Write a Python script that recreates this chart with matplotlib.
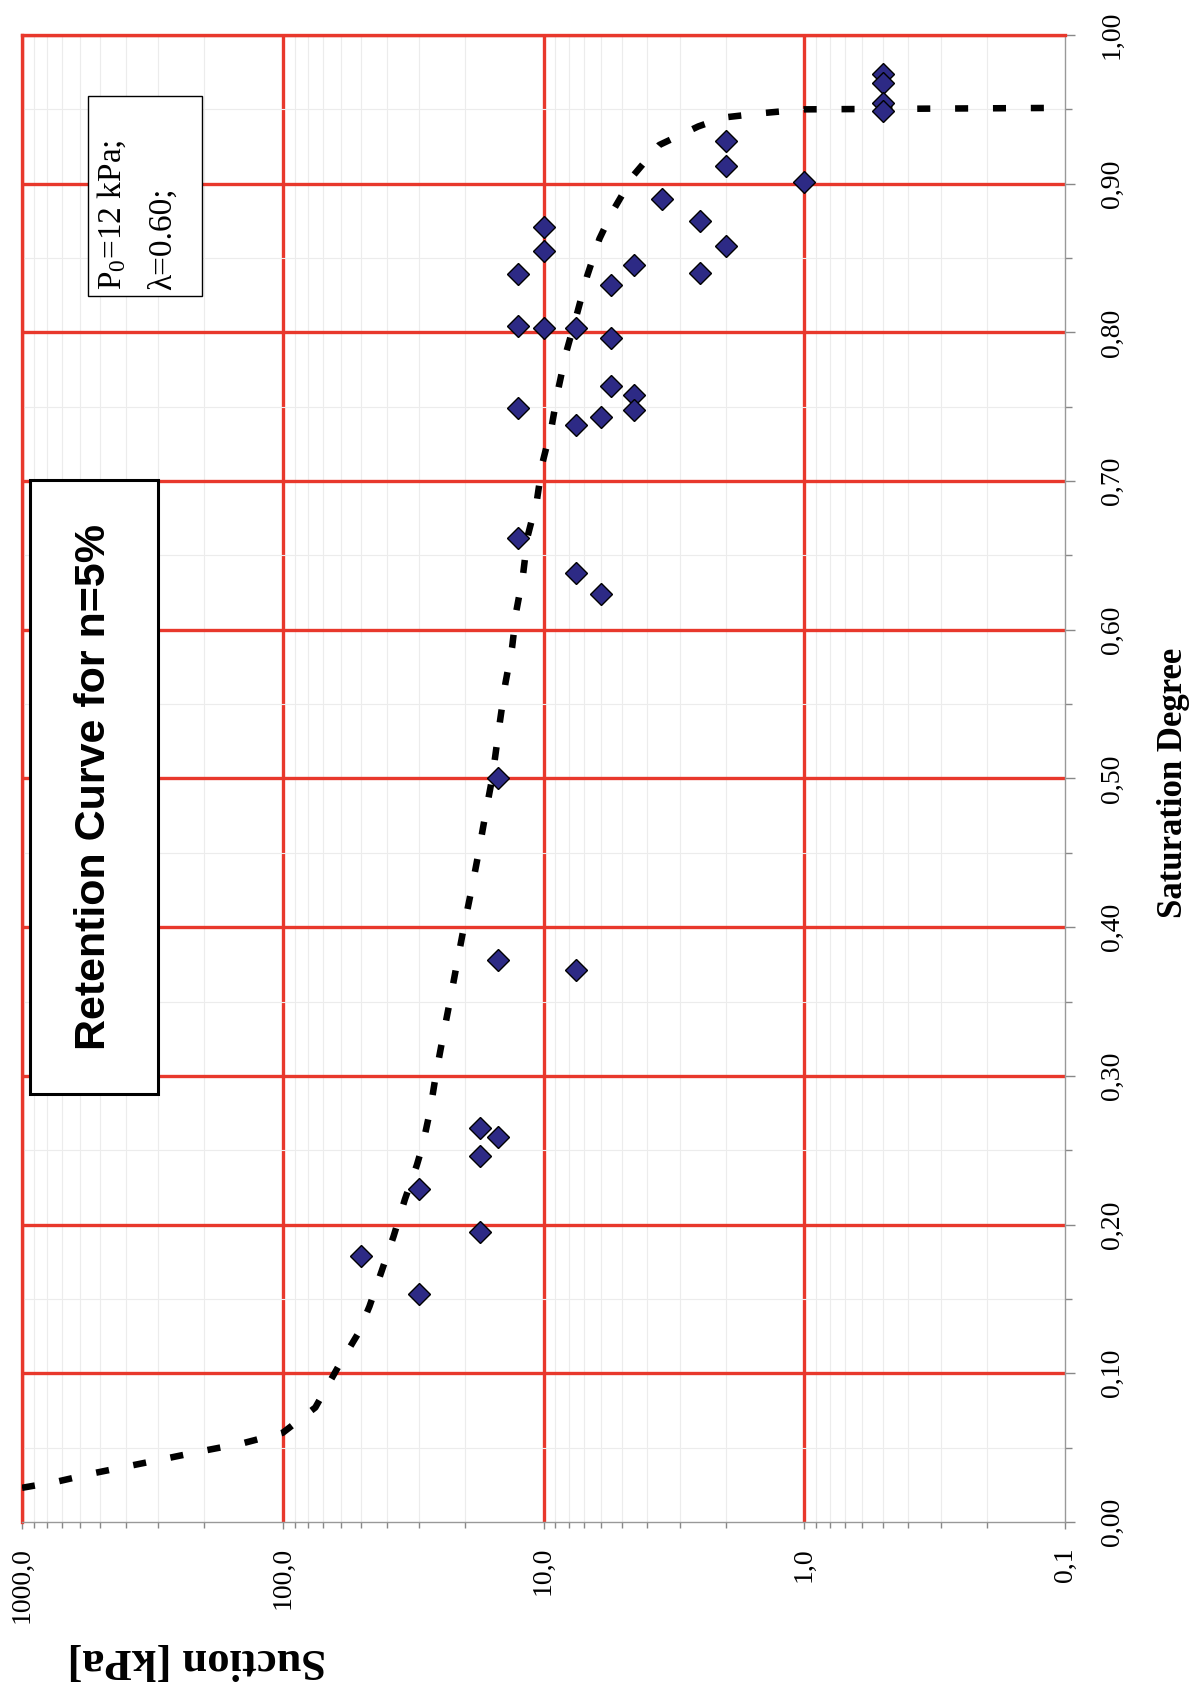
import matplotlib
matplotlib.use("Agg")
import matplotlib.pyplot as plt
from matplotlib.patches import Rectangle
from matplotlib.ticker import FixedLocator, LogLocator, MultipleLocator, NullFormatter

plt.rcParams['mathtext.fontset'] = 'custom'
plt.rcParams['mathtext.rm'] = 'Liberation Serif'
plt.rcParams['mathtext.it'] = 'Liberation Serif'

SERIF = 'Liberation Serif'
SANS = 'Liberation Sans'
RED = '#e8382c'

# measured points: suction [kPa] and saturation degree
suction_meas = [50, 30, 30, 17.5, 17.5, 17.5, 15, 15, 15, 7.5,
                12.5, 7.5, 6.0, 12.5, 7.5, 6.0, 5.5, 4.5, 4.5, 12.5,
                10, 7.5, 5.5, 12.5, 10, 10, 5.5, 4.5, 3.5, 2.5,
                2.5, 2.0, 2.0, 2.0, 1.0, 0.5, 0.5, 0.5, 0.5]
saturation_meas = [0.179, 0.153, 0.224, 0.195, 0.246, 0.265, 0.259, 0.378, 0.500, 0.371,
                   0.662, 0.638, 0.624, 0.749, 0.738, 0.743, 0.764, 0.758, 0.748, 0.804,
                   0.803, 0.803, 0.796, 0.839, 0.855, 0.871, 0.832, 0.845, 0.890, 0.875,
                   0.840, 0.858, 0.912, 0.929, 0.901, 0.974, 0.968, 0.954, 0.949]

# model retention curve
suction_curve = [1000, 740, 525, 380, 275, 200, 142, 100, 75, 61,
                 51.3, 46.5, 41.7, 37.6, 34.0, 30.6, 29.1, 27.2, 25.8, 24.2,
                 22.7, 21.4, 20.1, 18.8, 17.7, 16.7, 15.7, 14.7, 14.0, 13.2,
                 12.7, 12.0, 11.5, 10.6, 10.1, 9.3, 8.8, 8.2, 7.4, 6.8,
                 6.1, 5.45, 4.5, 3.6, 2.55, 2.04, 1.44, 1.0, 0.1]
saturation_curve = [0.023, 0.027, 0.033, 0.038, 0.043, 0.048, 0.053, 0.060, 0.077, 0.105,
                    0.127, 0.145, 0.169, 0.192, 0.217, 0.240, 0.253, 0.277, 0.302, 0.328,
                    0.353, 0.377, 0.402, 0.427, 0.451, 0.476, 0.501, 0.538, 0.564, 0.588,
                    0.613, 0.636, 0.663, 0.687, 0.712, 0.737, 0.761, 0.786, 0.814, 0.838,
                    0.863, 0.881, 0.906, 0.926, 0.9385, 0.9445, 0.9475, 0.950, 0.951]

suction_ticks = [1000, 100, 10, 1, 0.1]
suction_labels = ['1000,0', '100,0', '10,0', '1,0', '0,1']
sat_ticks = [0.0, 0.1, 0.2, 0.3, 0.4, 0.5, 0.6, 0.7, 0.8, 0.9, 1.0]
sat_labels = ['0,00', '0,10', '0,20', '0,30', '0,40', '0,50',
              '0,60', '0,70', '0,80', '0,90', '1,00']

W, H = 1199, 1685
fig = plt.figure(figsize=(W / 100, H / 100), dpi=100)
ax = fig.add_axes([22 / W, (H - 1522) / H, 1043 / W, 1487 / H])

ax.plot(suction_curve, saturation_curve, color='black', lw=4.7,
        linestyle=(0, (2.0, 3.8)), dash_capstyle='butt', zorder=3)
ax.plot(suction_meas, saturation_meas, linestyle='none', marker='D', ms=11.5,
        markerfacecolor='#2d2a85', markeredgecolor='black', markeredgewidth=1.0, zorder=4)

ax.set_xscale('log')
ax.set_xlim(1000, 0.1)
ax.set_ylim(0, 1)

ax.xaxis.set_major_locator(FixedLocator(suction_ticks))
ax.set_xticklabels(suction_labels, rotation=90, fontsize=20, family=SERIF)
ax.xaxis.set_minor_locator(LogLocator(base=10, subs=range(2, 10)))
ax.xaxis.set_minor_formatter(NullFormatter())

ax.yaxis.tick_right()
ax.yaxis.set_major_locator(FixedLocator(sat_ticks))
ax.set_yticklabels(sat_labels, rotation=90, fontsize=20, family=SERIF, va='center')
ax.yaxis.set_minor_locator(MultipleLocator(0.05))

ax.tick_params(axis='x', which='major', direction='out', length=5, width=1, color='#888888', pad=13)
ax.tick_params(axis='x', which='minor', direction='out', length=4, width=1, color='#888888')
ax.tick_params(axis='y', which='major', direction='out', length=7, width=1, color='#888888', pad=18)
ax.tick_params(axis='y', which='minor', direction='out', length=5, width=1, color='#888888')

ax.grid(True, which='major', color=RED, lw=2.4)
ax.grid(True, which='minor', color='#ececec', lw=0.8)
ax.set_axisbelow(True)

# edge gridlines sit under the grey spines
for t in ax.xaxis.get_major_ticks():
    if t.get_loc() == 0.1:
        t.gridline.set_visible(False)
for t in ax.yaxis.get_major_ticks():
    if t.get_loc() == 0.0:
        t.gridline.set_visible(False)

for side in ['top', 'left']:
    ax.spines[side].set_color(RED)
    ax.spines[side].set_linewidth(2.4)
for side in ['bottom', 'right']:
    ax.spines[side].set_color('#999999')
    ax.spines[side].set_linewidth(1.0)


def ax_xy(px, py):
    return (px - 22) / 1043, (1522 - py) / 1487


# title box
x0, y0 = ax_xy(30, 1094)
x1, y1 = ax_xy(158, 480)
ax.add_patch(Rectangle((x0, y0), x1 - x0, y1 - y0, transform=ax.transAxes,
                       facecolor='white', edgecolor='black', lw=2.2, zorder=5))
tx, ty = ax_xy(94, 787)
ax.text(tx, ty, 'Retention Curve for n=5%', transform=ax.transAxes, rotation=90,
        ha='center', va='center', fontsize=31, fontweight='bold', family=SANS, zorder=6)

# parameter box
x0, y0 = ax_xy(88, 296)
x1, y1 = ax_xy(202, 96)
ax.add_patch(Rectangle((x0, y0), x1 - x0, y1 - y0, transform=ax.transAxes,
                       facecolor='white', edgecolor='black', lw=1.0, zorder=5))
lx, ly = ax_xy(112, 290)
ax.text(lx, ly, r'P$_0$=12 kPa;', transform=ax.transAxes, rotation=90,
        ha='center', va='bottom', fontsize=24, family=SERIF, zorder=6)
lx, ly = ax_xy(163, 290)
ax.text(lx, ly, 'λ=0.60;', transform=ax.transAxes, rotation=90,
        ha='center', va='bottom', fontsize=24, family=SERIF, zorder=6)

fig.text(1173 / W, (H - 783) / H, 'Saturation Degree', rotation=90, ha='center', va='center',
         fontsize=25, fontweight='bold', family=SERIF)
fig.text(197 / W, (H - 1660) / H, 'Suction [kPa]', rotation=180, ha='center', va='center',
         fontsize=32, fontweight='bold', family=SERIF)

fig.savefig('out.png', dpi=100)
